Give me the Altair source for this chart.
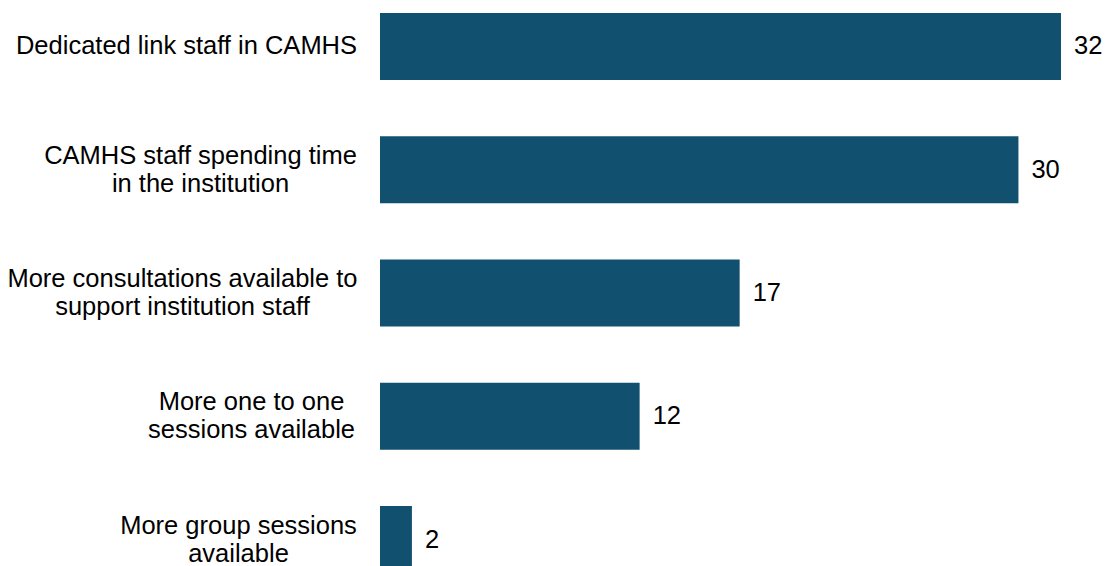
import altair as alt
import pandas as pd

categories = [
    "Dedicated link staff in CAMHS",
    "CAMHS staff spending time\nin the institution",
    "More consultations available to\nsupport institution staff",
    "More one to one\nsessions available",
    "More group sessions\navailable",
]
# bar lengths; the printed labels are rounded
values = [32, 30, 16.9, 12.2, 1.5]
value_labels = ["32", "30", "17", "12", "2"]

df = pd.DataFrame({"category": categories, "value": values, "label": value_labels})

FONT = "Liberation Sans"
BAR = "#12506F"
FS = 25.5

pad_cond = [
    {"test": "indexof(datum.value, 'Dedicated') == 0", "value": 194},
    {"test": "indexof(datum.value, 'CAMHS staff') == 0", "value": 180},
    {"test": "indexof(datum.value, 'More consultations') == 0", "value": 198},
    {"test": "indexof(datum.value, 'More one') == 0", "value": 129},
]
offset_cond = [
    {"test": "indexof(datum.value, '\\n') >= 0", "value": -14},
]

y = alt.Y(
    "category:N",
    sort=None,
    scale=alt.Scale(paddingInner=0.456, paddingOuter=0.04),
    axis=alt.Axis(
        title=None,
        domain=False,
        ticks=False,
        grid=False,
        labelFont=FONT,
        labelFontSize=FS,
        labelColor="#000000",
        labelLineHeight=28,
        labelAlign="center",
        labelBaseline="middle",
        labelLimit=500,
        labelExpr="split(datum.label, '\\n')",
        labelPadding={"condition": pad_cond, "value": 142},
        labelOffset={"condition": offset_cond, "value": 0},
    ),
)

x = alt.X("value:Q", scale=alt.Scale(domain=[0, 32], nice=False, zero=True), axis=None)

bars = alt.Chart(df).mark_bar(color=BAR).encode(x=x, y=y)
text = alt.Chart(df).mark_text(
    align="left", baseline="middle", dx=13, font=FONT, fontSize=FS, color="#000000"
).encode(x=x, y=y, text="label:N")

chart = (
    (bars + text)
    .properties(
        width=681,
        height=570,
        padding={"left": 372, "top": 0, "right": 42, "bottom": 0},
        autosize="none",
        background="white",
    )
    .configure_view(strokeWidth=0)
)

chart.save("out.html", embed_options={"renderer": "svg", "actions": False})
